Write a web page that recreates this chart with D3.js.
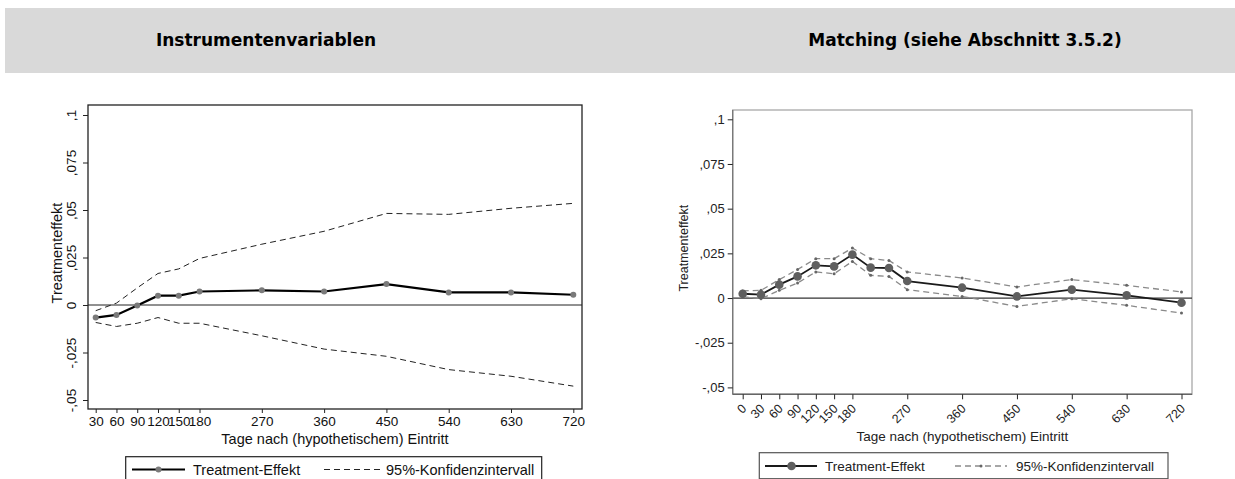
<!DOCTYPE html>
<html lang="de">
<head>
    <meta charset="UTF-8">
    <title>Treatmenteffekte</title>
    <script src="https://d3js.org/d3.v7.min.js"></script>
    <style>
        body {
            margin: 0;
            background: #ffffff;
            font-family: 'Liberation Sans', Arial, sans-serif;
        }
        .head {
            font-family: 'DejaVu Sans', Verdana, sans-serif;
            font-weight: bold;
            font-size: 17px;
            fill: #000;
        }
        .tick line {
            stroke: #222;
        }
    </style>
</head>
<body>
    <div id="chart"></div>

    <script>
        // Instrumentenvariablen
        const ivDays = [30, 60, 90, 120, 150, 180, 270, 360, 450, 540, 630, 720];
        const ivEffect = [-0.0066, -0.0052, -0.0002, 0.0049, 0.0049, 0.0071, 0.0077, 0.0071, 0.0110, 0.0066, 0.0066, 0.0054];
        const ivUpper = [-0.0030, 0.0010, 0.0090, 0.0166, 0.0190, 0.0245, 0.0320, 0.0388, 0.0482, 0.0477, 0.0509, 0.0535];
        const ivLower = [-0.0092, -0.0113, -0.0096, -0.0066, -0.0096, -0.0096, -0.0162, -0.0232, -0.0270, -0.0340, -0.0375, -0.0427];
        const ivXTicks = [30, 60, 90, 120, 150, 180, 270, 360, 450, 540, 630, 720];

        // Matching
        const mDays = [0, 30, 60, 90, 120, 150, 180, 210, 240, 270, 360, 450, 540, 630, 720];
        const mEffect = [0.0024, 0.0019, 0.0075, 0.0121, 0.0183, 0.0177, 0.0243, 0.0170, 0.0168, 0.0095, 0.0058, 0.0009, 0.0047, 0.0015, -0.0026];
        const mUpper = [0.0040, 0.0043, 0.0103, 0.0160, 0.0220, 0.0220, 0.0280, 0.0220, 0.0210, 0.0146, 0.0112, 0.0062, 0.0103, 0.0071, 0.0034];
        const mLower = [0.0008, -0.0004, 0.0043, 0.0084, 0.0146, 0.0136, 0.0205, 0.0127, 0.0121, 0.0047, 0.0009, -0.0047, -0.0004, -0.0041, -0.0084];
        const mXTicks = [0, 30, 60, 90, 120, 150, 180, 270, 360, 450, 540, 630, 720];

        const yTicks = [-0.05, -0.025, 0, 0.025, 0.05, 0.075, 0.1];
        const yTickLabels = ["-,05", "-,025", "0", ",025", ",05", ",075", ",1"];

        const titles = ["Instrumentenvariablen", "Matching (siehe Abschnitt 3.5.2)"];
        const xTitle = "Tage nach (hypothetischem) Eintritt";
        const yTitle = "Treatmenteffekt";
        const legendLabels = ["Treatment-Effekt", "95%-Konfidenzintervall"];

        const width = 1235;
        const height = 479;

        const svg = d3.select("#chart")
            .append("svg")
            .attr("width", width)
            .attr("height", height);

        // grey header band
        svg.append("rect")
            .attr("x", 5).attr("y", 8)
            .attr("width", width - 5).attr("height", 65)
            .attr("fill", "#d9d9d9");

        svg.append("text").attr("class", "head")
            .attr("x", 266).attr("y", 46)
            .attr("text-anchor", "middle")
            .text(titles[0]);

        svg.append("text").attr("class", "head")
            .attr("x", 965).attr("y", 46)
            .attr("text-anchor", "middle")
            .text(titles[1]);

        // ---------- left panel ----------
        const L = { left: 88, right: 582, top: 105, bottom: 409 };

        const xL = d3.scaleLinear().domain([30, 720]).range([95.7, 573.3]);
        const yL = d3.scaleLinear().domain([-0.05, 0.1]).range([400, 115]);

        const gL = svg.append("g");

        gL.append("line")
            .attr("x1", L.left).attr("x2", L.right)
            .attr("y1", yL(0)).attr("y2", yL(0))
            .attr("stroke", "#222").attr("stroke-width", 1);

        gL.append("rect")
            .attr("x", L.left).attr("y", L.top)
            .attr("width", L.right - L.left).attr("height", L.bottom - L.top)
            .attr("fill", "none").attr("stroke", "#222").attr("stroke-width", 1.3);

        const yAxisL = gL.append("g")
            .attr("transform", `translate(${L.left},0)`)
            .call(d3.axisLeft(yL).tickValues(yTicks)
                .tickFormat((d, i) => yTickLabels[i]).tickSize(5));
        yAxisL.select(".domain").remove();
        yAxisL.selectAll(".tick text")
            .attr("x", null).attr("dy", null)
            .attr("text-anchor", "middle")
            .attr("transform", "translate(-12,0) rotate(-90)")
            .attr("font-size", 13.5)
            .attr("font-family", "'Liberation Sans', Arial, sans-serif")
            .attr("fill", "#111");

        const xAxisL = gL.append("g")
            .attr("transform", `translate(0,${L.bottom})`)
            .call(d3.axisBottom(xL).tickValues(ivXTicks).tickSize(4).tickPadding(3));
        xAxisL.select(".domain").remove();
        xAxisL.selectAll(".tick text")
            .attr("font-size", 13.5)
            .attr("font-family", "'Liberation Sans', Arial, sans-serif")
            .attr("fill", "#111");

        gL.append("text")
            .attr("x", (L.left + L.right) / 2).attr("y", 444)
            .attr("text-anchor", "middle")
            .attr("font-size", 14.5).attr("fill", "#111")
            .text(xTitle);

        gL.append("text")
            .attr("transform", `translate(62,${(L.top + L.bottom) / 2 - 4}) rotate(-90)`)
            .attr("text-anchor", "middle")
            .attr("font-size", 14.5).attr("fill", "#111")
            .text(yTitle);

        const lineL = (vals) => d3.line()
            .x((d, i) => xL(ivDays[i]))
            .y(d => yL(d))(vals);

        gL.append("path").attr("d", lineL(ivUpper))
            .attr("fill", "none").attr("stroke", "#222").attr("stroke-width", 1)
            .attr("stroke-dasharray", "6,4");
        gL.append("path").attr("d", lineL(ivLower))
            .attr("fill", "none").attr("stroke", "#222").attr("stroke-width", 1)
            .attr("stroke-dasharray", "6,4");
        gL.append("path").attr("d", lineL(ivEffect))
            .attr("fill", "none").attr("stroke", "#000").attr("stroke-width", 2.2);

        gL.selectAll(".ivdot")
            .data(ivEffect)
            .join("circle")
            .attr("class", "ivdot")
            .attr("cx", (d, i) => xL(ivDays[i]))
            .attr("cy", d => yL(d))
            .attr("r", 3)
            .attr("fill", "#7a7a7a");

        // legend
        const legL = gL.append("g");
        legL.append("rect")
            .attr("x", 125.7).attr("y", 456.7)
            .attr("width", 416).attr("height", 26)
            .attr("fill", "none").attr("stroke", "#222").attr("stroke-width", 1.2);
        legL.append("line")
            .attr("x1", 132).attr("x2", 185).attr("y1", 469.5).attr("y2", 469.5)
            .attr("stroke", "#000").attr("stroke-width", 2.2);
        legL.append("circle")
            .attr("cx", 158.5).attr("cy", 469.5).attr("r", 3)
            .attr("fill", "#7a7a7a");
        legL.append("text")
            .attr("x", 193).attr("y", 474.5)
            .attr("font-size", 14.5).attr("fill", "#111")
            .text(legendLabels[0]);
        legL.append("line")
            .attr("x1", 324).attr("x2", 381).attr("y1", 469.5).attr("y2", 469.5)
            .attr("stroke", "#222").attr("stroke-width", 1)
            .attr("stroke-dasharray", "6,4");
        legL.append("text")
            .attr("x", 386).attr("y", 474.5)
            .attr("font-size", 14.5).attr("fill", "#111")
            .text(legendLabels[1]);

        // ---------- right panel ----------
        const R = { left: 732.7, right: 1192, top: 110, bottom: 394.3 };

        const xR = d3.scaleLinear().domain([0, 720]).range([742.7, 1181.5]);
        const yR = d3.scaleLinear().domain([-0.05, 0.1]).range([387.4, 119.3]);

        const gR = svg.append("g");

        gR.append("rect")
            .attr("x", R.left).attr("y", R.top)
            .attr("width", R.right - R.left).attr("height", R.bottom - R.top)
            .attr("fill", "none").attr("stroke", "#a8a8a8").attr("stroke-width", 1.3);

        gR.append("line")
            .attr("x1", R.left).attr("x2", R.right)
            .attr("y1", yR(0)).attr("y2", yR(0))
            .attr("stroke", "#333").attr("stroke-width", 1.2);

        gR.append("line")
            .attr("x1", R.left).attr("x2", R.left)
            .attr("y1", R.top).attr("y2", R.bottom)
            .attr("stroke", "#777").attr("stroke-width", 1.3);
        gR.append("line")
            .attr("x1", R.left).attr("x2", R.right)
            .attr("y1", R.bottom).attr("y2", R.bottom)
            .attr("stroke", "#666").attr("stroke-width", 1.6);

        const yAxisR = gR.append("g")
            .attr("transform", `translate(${R.left},0)`)
            .call(d3.axisLeft(yR).tickValues(yTicks)
                .tickFormat((d, i) => yTickLabels[i]).tickSize(5).tickPadding(3));
        yAxisR.select(".domain").remove();
        yAxisR.selectAll(".tick line").attr("stroke", "#666");
        yAxisR.selectAll(".tick text")
            .attr("font-size", 13)
            .attr("font-family", "'Liberation Sans', Arial, sans-serif")
            .attr("fill", "#222");

        const xAxisR = gR.append("g")
            .attr("transform", `translate(0,${R.bottom})`)
            .call(d3.axisBottom(xR).tickValues(mXTicks).tickSize(5));
        xAxisR.select(".domain").remove();
        xAxisR.selectAll(".tick line").attr("stroke", "#666");
        xAxisR.selectAll(".tick text")
            .attr("y", null).attr("dy", null)
            .attr("text-anchor", "end")
            .attr("transform", "translate(4,15) rotate(-45)")
            .attr("font-size", 12.5)
            .attr("font-family", "'Liberation Sans', Arial, sans-serif")
            .attr("fill", "#222");

        gR.append("text")
            .attr("x", (R.left + R.right) / 2).attr("y", 441)
            .attr("text-anchor", "middle")
            .attr("font-size", 13.5).attr("fill", "#222")
            .text(xTitle);

        gR.append("text")
            .attr("transform", `translate(688,${(R.top + R.bottom) / 2 - 4}) rotate(-90)`)
            .attr("text-anchor", "middle")
            .attr("font-size", 12.5).attr("fill", "#222")
            .text(yTitle);

        const lineR = (vals) => d3.line()
            .x((d, i) => xR(mDays[i]))
            .y(d => yR(d))(vals);

        [mUpper, mLower].forEach(vals => {
            gR.append("path").attr("d", lineR(vals))
                .attr("fill", "none").attr("stroke", "#8a8a8a").attr("stroke-width", 1.3)
                .attr("stroke-dasharray", "6,4");
            gR.selectAll(null)
                .data(vals)
                .join("circle")
                .attr("cx", (d, i) => xR(mDays[i]))
                .attr("cy", d => yR(d))
                .attr("r", 1.5)
                .attr("fill", "#666");
        });

        gR.append("path").attr("d", lineR(mEffect))
            .attr("fill", "none").attr("stroke", "#1a1a1a").attr("stroke-width", 1.8);

        gR.selectAll(".mdot")
            .data(mEffect)
            .join("circle")
            .attr("class", "mdot")
            .attr("cx", (d, i) => xR(mDays[i]))
            .attr("cy", d => yR(d))
            .attr("r", 4.3)
            .attr("fill", "#5f5f5f");

        const legR = gR.append("g");
        legR.append("rect")
            .attr("x", 759.3).attr("y", 452.7)
            .attr("width", 408.7).attr("height", 26)
            .attr("fill", "none").attr("stroke", "#555").attr("stroke-width", 1.2);
        legR.append("line")
            .attr("x1", 765).attr("x2", 817).attr("y1", 466).attr("y2", 466)
            .attr("stroke", "#1a1a1a").attr("stroke-width", 1.8);
        legR.append("circle")
            .attr("cx", 791.5).attr("cy", 466).attr("r", 4.3)
            .attr("fill", "#5f5f5f");
        legR.append("text")
            .attr("x", 825).attr("y", 470.5)
            .attr("font-size", 13.5).attr("fill", "#222")
            .text(legendLabels[0]);
        legR.append("line")
            .attr("x1", 955).attr("x2", 1007).attr("y1", 466).attr("y2", 466)
            .attr("stroke", "#8a8a8a").attr("stroke-width", 1.3)
            .attr("stroke-dasharray", "6,4");
        legR.append("circle")
            .attr("cx", 981).attr("cy", 466).attr("r", 1.5)
            .attr("fill", "#666");
        legR.append("text")
            .attr("x", 1016).attr("y", 470.5)
            .attr("font-size", 13.5).attr("fill", "#222")
            .text(legendLabels[1]);
    </script>
</body>
</html>
